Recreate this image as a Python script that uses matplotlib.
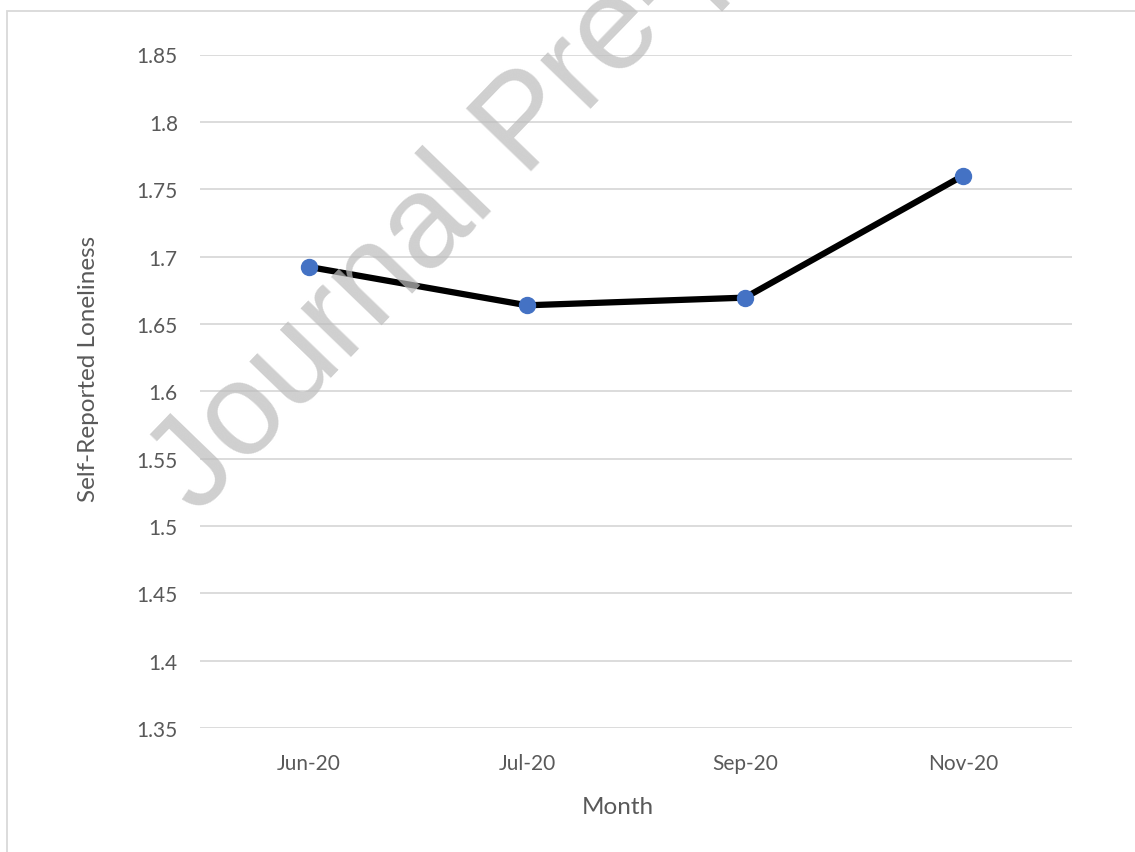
import matplotlib
matplotlib.use("Agg")
import matplotlib.pyplot as plt
from matplotlib.patches import Rectangle

months = ["Jun-20", "Jul-20", "Sep-20", "Nov-20"]
loneliness = [1.6923, 1.6638, 1.6695, 1.7600]
yticks = [1.35, 1.4, 1.45, 1.5, 1.55, 1.6, 1.65, 1.7, 1.75, 1.8, 1.85]

W, H = 1135, 853
fig = plt.figure(figsize=(W / 100, H / 100), dpi=100)
ax = fig.add_axes([200 / W, 1 - 729 / H, 872 / W, 673.5 / H])

txt = "#595959"
ax.plot(range(len(months)), loneliness, color="black", lw=4.5, zorder=3,
        marker="o", markersize=11.5, markerfacecolor="#4472c4",
        markeredgecolor="#4472c4", solid_capstyle="round")

ax.set_xlim(-0.5, len(months) - 0.5)
ax.set_ylim(1.35, 1.85)
ax.set_yticks(yticks)
ax.set_yticklabels([f"{v:g}" for v in yticks])
ax.set_xticks(range(len(months)))
ax.set_xticklabels(months)
ax.grid(axis="y", color="#d9d9d9", lw=1.3)
ax.set_axisbelow(True)
for s in ax.spines.values():
    s.set_visible(False)
ax.tick_params(axis="both", length=0, colors=txt, labelsize=15)
ax.tick_params(axis="y", pad=16)
ax.tick_params(axis="x", pad=18)
for lab in ax.get_xticklabels() + ax.get_yticklabels():
    lab.set_fontfamily("Lato")

ax.set_ylabel("Self-Reported Loneliness", fontsize=17.5, color=txt, family="Lato")
ax.yaxis.set_label_coords(-0.128, 0.534)
ax.set_xlabel("Month", fontsize=17.5, color=txt, family="Lato")
ax.xaxis.set_label_coords(0.479, -0.117)
ax.xaxis.label.set_va("center")
ax.yaxis.label.set_va("center")

# chart frame
fig.patches.append(Rectangle((7 / W, -0.05), 1.2, 1 - 12 / H + 0.05,
                             transform=fig.transFigure, fill=False,
                             edgecolor="#d9d9d9", lw=1.3))

# watermark (cut off at the top, as in the source)
wm = fig.text(198 / W, 1 - 516 / H, "Journal Pre-proof", fontsize=95,
              family="Liberation Sans", color="#bdbdbd", alpha=0.72,
              rotation=46, rotation_mode="anchor", ha="left", va="baseline",
              zorder=10)
wm.set_clip_on(True)

fig.savefig("out.png", dpi=100)
